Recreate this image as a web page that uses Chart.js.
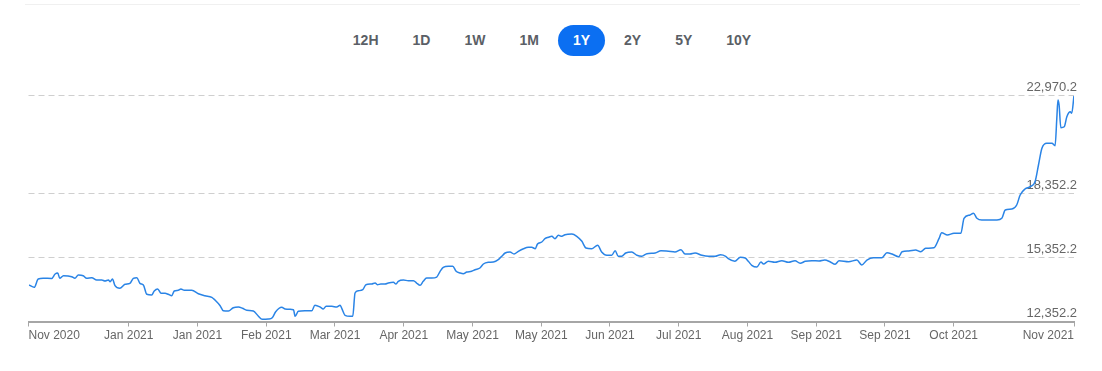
<!DOCTYPE html>
<html>
<head>
<meta charset="utf-8">
<script src="https://cdn.jsdelivr.net/npm/chart.js@4"></script>
<style>
  body { margin: 0; background: #fff; font-family: "Liberation Sans", Arial, sans-serif; }
  #topline { position: absolute; left: 25px; top: 4px; width: 1055px; border-top: 1px solid #f0f0f0; }
  #ranges { position: absolute; top: 25px; left: 0; width: 1104px; display: flex; justify-content: center; gap: 4px; }
  #ranges span { height: 31px; line-height: 31px; padding: 0 15px; border-radius: 16px; font-weight: bold; font-size: 14px; color: #5b5f66; }
  #ranges span.on { background: #0b6ff2; color: #fff; }
  #wrap { position: absolute; left: 0; top: 60px; width: 1102px; height: 290px; }
</style>
</head>
<body>
<div id="topline"></div>
<div id="ranges"></div>
<div id="wrap"><canvas id="chartPrice"></canvas></div>
<script>
// range buttons
const ranges = ['12H', '1D', '1W', '1M', '1Y', '2Y', '5Y', '10Y'];
const activeRange = '1Y';

// days since start of the year window
const days = [0.2, 2.0, 3.4, 5.1, 8.1, 9.3, 10.2, 10.9, 12.2, 15.1, 16.2, 17.4, 19.1, 20.3, 22.1, 23.8, 25.6, 26.7, 27.9, 28.5,
  29.3, 30.2, 31.9, 33.7, 35.4, 36.6, 37.8, 38.9, 40.1, 41.3, 43.0, 43.9, 45.1, 46.3, 47.7, 48.8, 50.0, 50.9, 52.3, 53.2,
  54.4, 57.0, 59.3, 61.6, 64.0, 65.1, 66.9, 68.0, 69.8, 71.5, 73.3, 74.7, 76.2, 78.5, 80.2, 81.6, 83.7, 85.1, 86.3, 88.4,
  89.6, 91.3, 92.5, 93.1, 94.2, 96.5, 98.9, 100.0, 101.8, 102.9, 103.9, 105.9, 107.6, 108.8, 109.4, 110.5, 112.3, 113.2, 114.0, 115.2,
  116.7, 117.8, 119.8, 121.0, 121.8, 123.0, 124.5, 125.6, 127.4, 128.3, 129.1, 130.9, 132.6, 134.4, 135.5, 136.7, 137.8, 139.0, 140.8, 142.5,
  143.7, 144.8, 146.6, 148.1, 149.3, 150.7, 151.8, 153.0, 154.7, 155.9, 157.6, 158.8, 160.5, 162.3, 164.0, 165.2, 166.4, 168.1, 169.5, 171.0,
  172.8, 174.5, 175.7, 176.9, 177.7, 179.2, 180.3, 181.5, 182.7, 183.8, 185.0, 186.2, 187.3, 189.7, 191.4, 193.2, 194.6, 196.6, 198.7, 200.1,
  201.9, 203.6, 204.8, 205.9, 207.1, 208.5, 210.6, 212.4, 214.1, 215.9, 218.8, 220.8, 223.4, 225.7, 227.8, 229.2, 230.9, 232.7, 235.1, 237.4,
  239.7, 241.6, 243.4, 244.3, 246.6, 248.5, 250.2, 251.3, 252.5, 254.3, 255.7, 256.6, 258.3, 260.6, 263.0, 265.3, 267.6, 269.4, 271.2, 273.5,
  276.0, 278.0, 279.8, 281.6, 283.0, 286.3, 289.2, 290.9, 292.7, 295.0, 297.9, 299.7, 301.5, 303.8, 305.0, 307.3, 309.7, 311.5, 313.2, 316.1,
  317.9, 318.8, 320.8, 323.1, 325.5, 326.6, 328.7, 329.9, 331.1, 332.8, 335.7, 338.1, 339.8, 341.0, 343.3, 345.0, 346.2, 347.9, 349.7, 351.4,
  352.6, 353.8, 355.5, 357.3, 358.4, 359.0, 359.4, 359.8, 360.4, 361.6, 362.5, 363.7, 364.2, 365.0];

const prices = [14068, 13960, 14350, 14383, 14380, 14585, 14632, 14383, 14506, 14458, 14383, 14538, 14506, 14383, 14411, 14303, 14303, 14256, 14303, 14223,
  14350, 14035, 13913, 14101, 14148, 14383, 14411, 14148, 14068, 13631, 13598, 13786, 13880, 13678, 13678, 13631, 13565, 13786, 13819, 13880,
  13819, 13819, 13659, 13565, 13490, 13363, 13095, 12860, 12846, 13001, 13034, 12973, 12879, 12846, 12611, 12456, 12470, 12531, 12813, 13020,
  12940, 12926, 12907, 12597, 12832, 12860, 12860, 13114, 13034, 12940, 13067, 13067, 13034, 13114, 12954, 12644, 12597, 12597, 13692, 13800,
  13847, 14082, 14115, 14162, 14082, 14115, 14115, 14162, 14195, 14115, 14242, 14303, 14270, 14270, 14162, 14054, 14242, 14397, 14397, 14444,
  14712, 14901, 14948, 14948, 14712, 14632, 14600, 14679, 14712, 14788, 14868, 15056, 15136, 15150, 15258, 15418, 15573, 15620, 15526, 15653,
  15775, 15841, 15841, 15775, 15996, 16090, 16245, 16311, 16358, 16245, 16405, 16358, 16433, 16466, 16358, 16123, 15808, 15775, 15935, 15620,
  15465, 15465, 15681, 15418, 15418, 15573, 15620, 15465, 15418, 15540, 15573, 15681, 15653, 15620, 15728, 15526, 15526, 15573, 15465, 15418,
  15418, 15493, 15418, 15305, 15183, 15371, 15338, 15183, 14995, 14915, 15150, 15056, 15183, 15136, 15211, 15136, 15211, 15089, 15183, 15211,
  15197, 15244, 15164, 15042, 15211, 15164, 15244, 15009, 15244, 15352, 15352, 15587, 15526, 15399, 15634, 15667, 15714, 15634, 15794, 15822,
  16264, 16527, 16419, 16499, 16499, 17205, 17360, 17440, 17205, 17125, 17125, 17125, 17205, 17595, 17642, 17830, 18300, 18582, 18690, 18925,
  19711, 20496, 20731, 20731, 20618, 21906, 22767, 22532, 21465, 21511, 21982, 22217, 22142, 22970];

// x axis ticks (day positions) and their labels
const tickDays = [0, 35, 59, 83, 107, 131, 155, 179, 203, 227, 251, 275, 299, 323, 365];
const tickLabels = ['Nov 2020', 'Jan 2021', 'Jan 2021', 'Feb 2021', 'Mar 2021', 'Apr 2021', 'May 2021', 'May 2021',
  'Jun 2021', 'Jul 2021', 'Aug 2021', 'Sep 2021', 'Sep 2021', 'Oct 2021', 'Nov 2021'];

// y axis ticks
const yTicks = [12352.2, 15352.2, 18352.2, 22970.2];

// buttons
const box = document.getElementById('ranges');
ranges.forEach(r => {
  const s = document.createElement('span');
  s.textContent = r;
  if (r === activeRange) s.className = 'on';
  box.appendChild(s);
});

const ctx = document.getElementById('chartPrice').getContext('2d');
new Chart(ctx, {
  type: 'line',
  data: {
    datasets: [{
      data: days.map((d, i) => ({ x: d, y: prices[i] })),
      borderColor: '#2a84e6',
      borderWidth: 1.5,
      pointRadius: 0,
      fill: false,
      cubicInterpolationMode: 'monotone'
    }]
  },
  options: {
    responsive: true,
    maintainAspectRatio: false,
    animation: false,
    layout: { padding: { top: 35.7, left: 28.5, right: 0, bottom: 0 } },
    plugins: { legend: { display: false }, tooltip: { enabled: false } },
    scales: {
      x: {
        type: 'linear',
        min: 0,
        max: 365,
        afterBuildTicks: scale => { scale.ticks = tickDays.map(v => ({ value: v })); },
        afterFit: scale => { scale.height = 28.5; },
        grid: { drawOnChartArea: false, drawTicks: true, tickLength: 5, color: '#a6a6a6' },
        border: { display: true, color: '#a6a6a6', width: 2 },
        ticks: {
          autoSkip: false,
          maxRotation: 0,
          align: 'inner',
          padding: 2,
          color: '#666',
          font: { family: 'Liberation Sans', size: 12 },
          callback: (v, i) => tickLabels[i]
        }
      },
      y: {
        position: 'right',
        min: 12352.2,
        max: 22970.2,
        afterBuildTicks: scale => { scale.ticks = yTicks.map(v => ({ value: v })); },
        afterFit: scale => { scale.width = 28; },
        grid: { drawTicks: false, color: '#cfcfcf' },
        border: { display: false, dash: [6, 4] },
        ticks: {
          mirror: true,
          padding: 3,
          labelOffset: -8,
          color: '#666',
          font: { family: 'Liberation Sans', size: 13 },
          callback: v => v.toLocaleString('en-US', { minimumFractionDigits: 1, maximumFractionDigits: 1 })
        }
      }
    }
  }
});
</script>
</body>
</html>
